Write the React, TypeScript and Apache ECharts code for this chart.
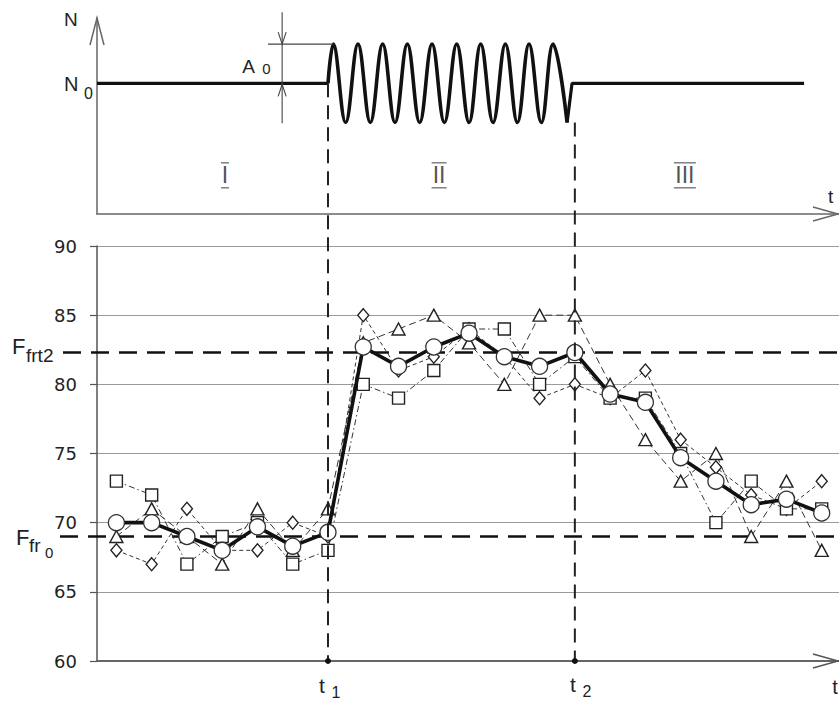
import { useEffect, useRef } from "react";
import * as echarts from "echarts";

// ---- data (bottom panel) ----
const sampleT = [0, 1, 2, 3, 4, 5, 6, 7, 8, 9, 10, 11, 12, 13, 14, 15, 16, 17, 18, 19, 20];
const meanF = [70, 70, 69, 68, 69.7, 68.3, 69.3, 82.7, 81.3, 82.7, 83.7, 82, 81.3, 82.3, 79.3, 78.7, 74.7, 73, 71.3, 71.7, 70.7];
const squareF = [73, 72, 67, 69, 70, 67, 68, 80, 79, 81, 84, 84, 80, 82, 79, 79, 75, 70, 73, 71, 71];
const triangleF = [69, 71, 69, 67, 71, 68, 71, 83, 84, 85, 83, 80, 85, 85, 80, 76, 73, 75, 69, 73, 68];
const diamondF = [68, 67, 71, 68, 68, 70, 69, 85, 81, 82, 84, 82, 79, 80, 79, 81, 76, 74, 72, 71, 73];
const yTicks = [60, 65, 70, 75, 80, 85, 90];
const Ffrt2 = 82.3;
const Ffr0 = 69;
const tMarks = [6, 13]; // t1, t2

// ---- data (top panel, schematic) ----
const N0 = 1;
const A0 = 0.3;
const wavePeakT = [6.15, 6.85, 7.55, 8.25, 8.95, 9.65, 10.33, 11.03, 11.7, 12.38];
const waveTroughT = [6.5, 7.2, 7.9, 8.6, 9.3, 10.0, 10.68, 11.37, 12.05, 12.78];
const waveEndT = 12.92;
const flatEndT = 19.5;
const phaseLabels = ["I", "II", "III"];
const phaseLabelT = [3.08, 9.15, 16.12];
const a0MarkT = 4.7;

const X_MIN = -0.55;
const X_MAX = 20.49;

const FONT = "Liberation Sans, Arial, sans-serif";
const NUMFONT = "DejaVu Sans, sans-serif";

function buildOption() {
  const waveData: number[][] = [[tMarks[0], N0]];
  for (let i = 0; i < wavePeakT.length; i++) {
    waveData.push([wavePeakT[i], N0 + A0]);
    waveData.push([waveTroughT[i], N0 - A0]);
  }
  const sym = (name: string, size: any, data: number[], dash: any, extra: any = {}) => ({
    type: "line",
    xAxisIndex: 1,
    yAxisIndex: 1,
    data: sampleT.map((t, i) => [t, data[i]]),
    symbol: name,
    symbolSize: size,
    showAllSymbol: true,
    lineStyle: { color: "#333", width: 1, type: dash },
    itemStyle: { color: "#fff", borderColor: "#222", borderWidth: 1.4 },
    ...extra,
  });
  const hidden = { axisTick: { show: false }, axisLabel: { show: false }, splitLine: { show: false } };
  return {
    animation: false,
    grid: [
      { left: 97, top: 18, width: 742, height: 196, containLabel: false, outerBoundsMode: "none" },
      { left: 97, top: 246, width: 742, height: 415, containLabel: false, outerBoundsMode: "none" },
    ],
    xAxis: [
      {
        type: "value", gridIndex: 0, min: X_MIN, max: X_MAX,
        axisLine: { show: true, onZero: false, lineStyle: { color: "#666", width: 1.5 } },
        ...hidden,
      },
      {
        type: "value", gridIndex: 1, min: X_MIN, max: X_MAX,
        axisLine: { show: true, onZero: false, lineStyle: { color: "#666", width: 1.8 } },
        ...hidden,
      },
    ],
    yAxis: [
      {
        type: "value", gridIndex: 0, min: 0, max: 1.5,
        axisLine: { show: true, onZero: false, lineStyle: { color: "#666", width: 1.5 } },
        ...hidden,
      },
      {
        type: "value", gridIndex: 1, min: 60, max: 90, interval: 5,
        axisLine: { show: true, onZero: false, lineStyle: { color: "#555", width: 1.5 } },
        axisTick: { show: true, length: 7, lineStyle: { color: "#555", width: 1.2 } },
        axisLabel: {
          margin: 20, fontSize: 18, color: "#222", fontFamily: NUMFONT,
          formatter: (v: number) => (yTicks.includes(v) ? String(v) : ""),
        },
        splitLine: { show: true, lineStyle: { color: "#9a9a9a", width: 1.2 } },
      },
    ],
    series: [
      {
        type: "line", xAxisIndex: 0, yAxisIndex: 0, symbol: "none",
        data: [[X_MIN, N0], [tMarks[0], N0]],
        lineStyle: { color: "#111", width: 3.2 },
      },
      {
        type: "line", xAxisIndex: 0, yAxisIndex: 0, symbol: "none", smooth: 0.4,
        data: waveData,
        lineStyle: { color: "#111", width: 3.6 },
      },
      {
        type: "line", xAxisIndex: 0, yAxisIndex: 0, symbol: "none",
        data: [[waveTroughT[waveTroughT.length - 1], N0 - A0], [waveEndT, N0], [flatEndT, N0]],
        lineStyle: { color: "#111", width: 3.2 },
      },
      sym("diamond", [11, 13], diamondF, [4, 3]),
      sym("triangle", [13, 12], triangleF, [7, 4]),
      sym("rect", 12, squareF, [6, 3, 1.5, 3]),
      sym("circle", 16, meanF, "solid", {
        lineStyle: { color: "#111", width: 3.6 },
        itemStyle: { color: "#fff", borderColor: "#333", borderWidth: 1.3 },
        z: 5,
      }),
    ],
  };
}

export default function App() {
  const ref = useRef<HTMLDivElement>(null);
  useEffect(() => {
    document.body.style.margin = "0";
    const chart = echarts.init(ref.current!, null, { renderer: "svg" });
    chart.setOption(buildOption() as any);
    const p = (g: number, x: number, y: number) =>
      chart.convertToPixel({ gridIndex: g } as any, [x, y]) as number[];

    const els: any[] = [];
    const txt = (x: number, y: number, text: string, size: number, align = "left", extra: any = {}) =>
      els.push({
        type: "text", x, y, z: 20,
        style: { text, fontSize: size, fontFamily: FONT, fill: "#222", align, verticalAlign: "middle", ...extra },
      });
    const ln = (x1: number, y1: number, x2: number, y2: number, stroke: string, w: number, dash?: number[], z = 20) =>
      els.push({
        type: "line", z, shape: { x1, y1, x2, y2 },
        style: { stroke, lineWidth: w, lineDash: dash },
      });
    const chevron = (pts: number[][], stroke = "#555", w = 1.5) =>
      els.push({ type: "polyline", z: 20, shape: { points: pts }, style: { stroke, lineWidth: w, fill: null } });

    // top panel axes arrows
    const topOrigin = p(0, X_MIN, 0);
    const topTop = p(0, X_MIN, 1.5);
    const topRight = p(0, X_MAX, 0);
    chevron([[topOrigin[0] - 7, topTop[1] + 27], [topOrigin[0], topTop[1]], [topOrigin[0] + 7, topTop[1] + 27]], "#666");
    chevron([[topRight[0] - 26, topRight[1] - 7], [topRight[0] - 1, topRight[1]], [topRight[0] - 26, topRight[1] + 7]], "#666");
    txt(topOrigin[0] - 33, topTop[1] + 1, "N", 19);
    txt(topRight[0] - 11, topRight[1] - 18, "t", 19);
    // N0 label
    const n0 = p(0, X_MIN, N0);
    txt(n0[0] - 33, n0[1] + 1, "N", 20);
    txt(n0[0] - 13, n0[1] + 10, "0", 16);

    // A0 annotation
    const aTop = p(0, a0MarkT, N0 + A0);
    const aBot = p(0, a0MarkT, N0);
    ln(aTop[0], aTop[1] - 32, aTop[0], aBot[1] + 40, "#444", 1.1);
    ln(p(0, 4.3, 0)[0], aTop[1], p(0, wavePeakT[0], 0)[0], aTop[1], "#444", 1.1);
    chevron([[aTop[0] - 4, aTop[1] - 12], [aTop[0], aTop[1]], [aTop[0] + 4, aTop[1] - 12]], "#444", 1.1);
    chevron([[aBot[0] - 4, aBot[1] + 13], [aBot[0], aBot[1] + 1], [aBot[0] + 4, aBot[1] + 13]], "#444", 1.1);
    txt(aTop[0] - 40, aTop[1] + 22, "A", 19);
    txt(aTop[0] - 20, aTop[1] + 24, "0", 15);

    // phase labels
    phaseLabels.forEach((lab, i) => {
      const c = p(0, phaseLabelT[i], 0.3);
      txt(c[0], c[1], lab, 23, "center", { fill: "#555", fontFamily: FONT });
      const hw = 4 + (lab.length - 1) * 3.5;
      ln(c[0] - hw, c[1] - 12, c[0] + hw, c[1] - 12, "#777", 1.4);
      ln(c[0] - hw, c[1] + 13, c[0] + hw, c[1] + 13, "#777", 1.4);
    });

    // vertical dashed lines t1, t2
    const tTopLevels = [N0, N0 - A0];
    tMarks.forEach((t, i) => {
      const a = p(0, t, tTopLevels[i]);
      const b = p(1, t, 60);
      ln(a[0], a[1], b[0], b[1], "#222", 2, [14, 8], 30);
      els.push({ type: "circle", z: 31, shape: { cx: b[0], cy: b[1], r: 3 }, style: { fill: "#111" } });
    });
    const t1p = p(1, tMarks[0], 60);
    const t2p = p(1, tMarks[1], 60);
    txt(t1p[0] - 6, t1p[1] + 24, "t", 21, "center");
    txt(t1p[0] + 8, t1p[1] + 31, "1", 16, "center");
    txt(t2p[0] - 2, t2p[1] + 23, "t", 21, "center");
    txt(t2p[0] + 12, t2p[1] + 30, "2", 16, "center");

    // bottom axis arrow and t label
    const bR = p(1, X_MAX, 60);
    chevron([[bR[0] - 26, bR[1] - 7], [bR[0] - 1, bR[1]], [bR[0] - 26, bR[1] + 7]], "#555");
    txt(bR[0] - 4, bR[1] + 26, "t", 20, "center");

    // horizontal dashed reference lines
    const fa = p(1, X_MIN, Ffrt2);
    ln(fa[0] - 34, fa[1], bR[0], fa[1], "#111", 2.5, [18, 10], 1);
    txt(12, fa[1] - 6, "F", 22);
    txt(26, fa[1] + 3, "frt2", 19);
    const fb = p(1, X_MIN, Ffr0);
    ln(fb[0] - 37, fb[1], bR[0], fb[1], "#111", 2.5, [18, 10], 1);
    txt(16, fb[1] + 1, "F", 22);
    txt(29, fb[1] + 9, "fr", 19);
    txt(45, fb[1] + 16, "0", 15);

    chart.setOption({ graphic: { elements: els } } as any);
    return () => chart.dispose();
  }, []);
  return <div ref={ref} style={{ width: 839, height: 701 }} />;
}
